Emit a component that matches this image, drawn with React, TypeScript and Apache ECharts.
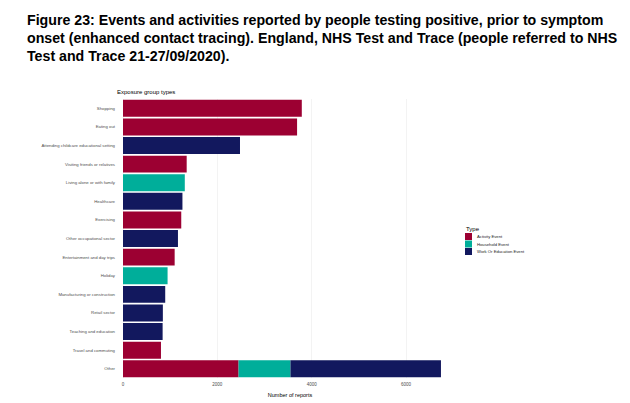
import React, { useEffect, useRef } from "react";
import * as echarts from "echarts";

const categories = [
  "Shopping",
  "Eating out",
  "Attending childcare educational setting",
  "Visiting friends or relatives",
  "Living alone or with family",
  "Healthcare",
  "Exercising",
  "Other occupational sector",
  "Entertainment and day trips",
  "Holiday",
  "Manufacturing or construction",
  "Retail sector",
  "Teaching and education",
  "Travel and commuting",
  "Other",
];

const activityEvent = [3790, 3690, null, 1350, null, null, 1235, null, 1095, null, null, null, null, 805, 2450];
const householdEvent = [null, null, null, null, 1310, null, null, null, null, 945, null, null, null, null, 1100];
const workEvent = [null, null, 2480, null, null, 1260, null, 1165, null, null, 895, 845, 840, null, 3190];

const seriesNames = ["Activity Event", "Household Event", "Work Or Education Event"];
const seriesColors = ["#9C0032", "#00AE9A", "#12185E"];
const xTicks = [0, 2000, 4000, 6000];

const titleLines = [
  "Figure 23: Events and activities reported by people testing positive, prior to symptom",
  "onset (enhanced contact tracing). England, NHS Test and Trace (people referred to NHS",
  "Test and Trace 21-27/09/2020).",
];

export default function App() {
  const ref = useRef<HTMLDivElement>(null);
  useEffect(() => {
    if (!ref.current) return;
    const chart = echarts.init(ref.current, null, { renderer: "svg" });
    const dataSets = [activityEvent, householdEvent, workEvent];
    chart.setOption({
      animation: false,
      backgroundColor: "#ffffff",
      textStyle: { fontFamily: "Liberation Sans, Arial, sans-serif" },
      grid: { left: 123, right: 173, top: 99, bottom: 18.5 },
      xAxis: {
        type: "value",
        min: 0,
        max: 7080,
        interval: 2000,
        axisLine: { show: false },
        axisTick: { show: false },
        axisLabel: {
          fontSize: 4.5,
          color: "#4D4D4D",
          margin: 4,
          showMaxLabel: false,
          formatter: (v: number) => (xTicks.includes(v) ? String(v) : ""),
        },
        splitLine: { show: true, showMaxLine: false, lineStyle: { color: "#EBEBEB", width: 0.6 } },
        name: "Number of reports",
        nameLocation: "middle",
        nameGap: 12.5,
        nameTextStyle: { fontSize: 5.5, color: "#000000" },
      },
      yAxis: {
        type: "category",
        data: categories,
        inverse: true,
        axisLine: { show: false },
        axisTick: { show: false },
        splitLine: { show: false },
        axisLabel: { fontSize: 4.3, color: "#4D4D4D", margin: 8 },
      },
      legend: {
        orient: "vertical",
        left: 465,
        top: 233,
        padding: 0,
        itemWidth: 7,
        itemHeight: 7,
        itemGap: 0.5,
        icon: "rect",
        textStyle: { fontSize: 4.2, color: "#222222" },
        data: seriesNames,
      },
      series: dataSets.map((d, i) => ({
        name: seriesNames[i],
        type: "bar",
        stack: "total",
        data: d,
        barCategoryGap: "9%",
        itemStyle: { color: seriesColors[i] },
      })),
      graphic: [
        ...titleLines.map((t, i) => ({
          type: "text",
          left: 27,
          top: 13 + i * 18,
          style: {
            text: t,
            fontSize: 14.2,
            fontWeight: "bold",
            fontFamily: "Liberation Sans, Arial, sans-serif",
            fill: "#000000",
          },
        })),
        {
          type: "text",
          x: 117,
          y: 91.7,
          style: {
            text: "Exposure group types",
            fontSize: 6,
            fill: "#000000",
            verticalAlign: "middle",
            fontFamily: "Liberation Sans, Arial, sans-serif",
          },
        },
        {
          type: "text",
          x: 466,
          y: 229,
          style: {
            text: "Type",
            fontSize: 6,
            fill: "#000000",
            verticalAlign: "middle",
            fontFamily: "Liberation Sans, Arial, sans-serif",
          },
        },
      ],
    });
    return () => chart.dispose();
  }, []);
  return (
    <div
      ref={ref}
      style={{ position: "fixed", left: 0, top: 0, width: 630, height: 403, background: "#fff" }}
    />
  );
}
